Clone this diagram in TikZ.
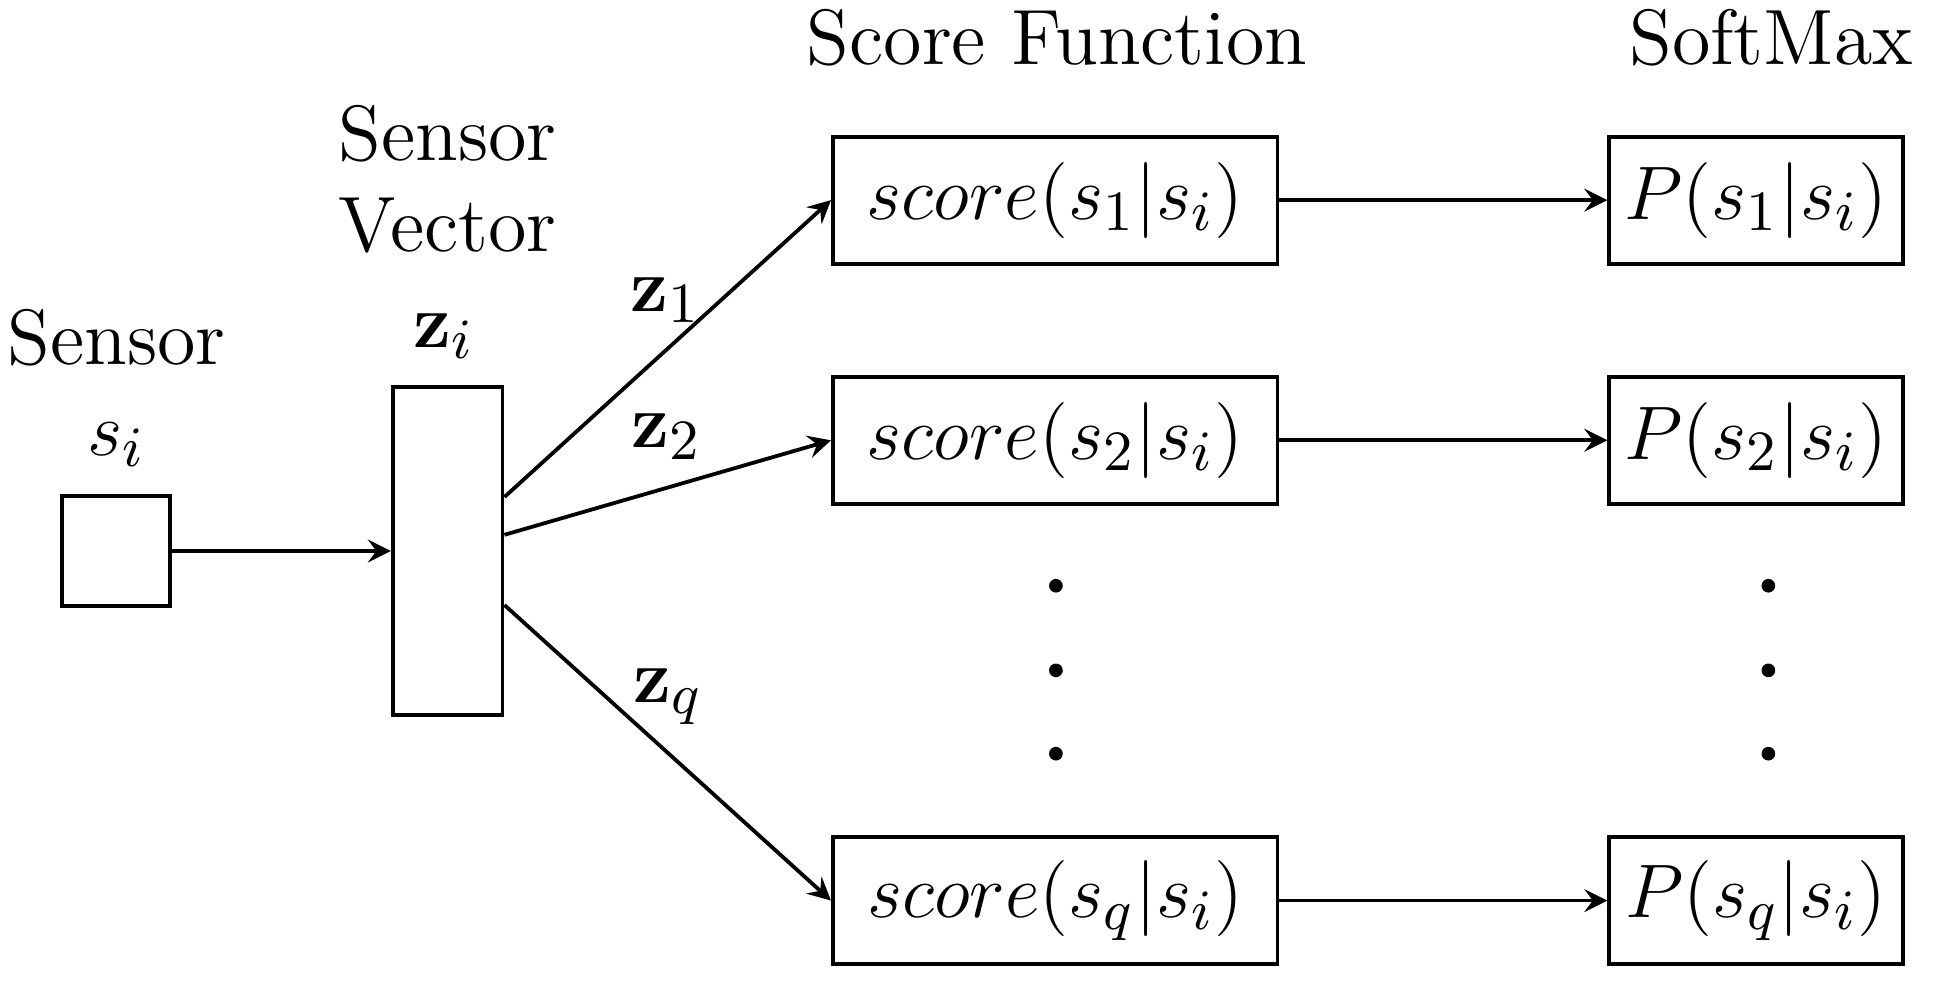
\documentclass[tikz,border=0pt]{standalone}
\usepackage{amsmath}
\usepackage{amssymb}
\usepackage{tikz}
\newcommand{\figfont}{\fontsize{12.4pt}{14.5pt}\selectfont}
\tikzstyle{box} = [draw=black, line width=0.6pt, inner sep=0pt, font=\figfont]
\tikzstyle{sensorbox} = [box, minimum width=0.6cm, minimum height=0.61cm]
\tikzstyle{vecbox} = [box, minimum width=0.61cm, minimum height=1.82cm]
\tikzstyle{scorebox} = [box, minimum width=2.47cm, minimum height=0.705cm]
\tikzstyle{probbox} = [box, minimum width=1.63cm, minimum height=0.705cm]
\tikzstyle{caption} = [font=\figfont, inner sep=0pt, anchor=base]
\tikzstyle{link} = [->, >=stealth, line width=0.6pt]

\begin{document}
\begin{tikzpicture}
        \useasboundingbox (0,0) rectangle (10.833,-5.461);
        \node[caption](hsensor) at (0.649,-2.024){Sensor};
        \node[caption](lsensor) at (0.65,-2.528){$s_i$};
        \node[caption,align=center,anchor=south](hvector) at (2.487,-1.416){Sensor\\Vector};
        \node[caption](lvector) at (2.467,-1.928){$\mathbf{z}_i$};
        \node[caption](hscore) at (5.872,-0.359){Score Function};
        \node[caption](hsoftmax) at (9.84,-0.359){SoftMax};
        \node[sensorbox](sen) at (0.646,-3.061){};
        \node[vecbox](vec) at (2.487,-3.061){};
        \node[scorebox](sc1) at (5.862,-1.112){$score(s_1|s_i)$};
        \node[scorebox](sc2) at (5.862,-2.446){$score(s_2|s_i)$};
        \node[scorebox](scq) at (5.862,-5.003){$score(s_q|s_i)$};
        \node[probbox](p1) at (9.755,-1.112){$P(s_1|s_i)$};
        \node[probbox](p2) at (9.755,-2.446){$P(s_2|s_i)$};
        \node[probbox](pq) at (9.755,-5.003){$P(s_q|s_i)$};
        \node[caption](z1) at (3.696,-1.728){$\mathbf{z}_1$};
        \node[caption](z2) at (3.703,-2.487){$\mathbf{z}_2$};
        \node[caption](zq) at (3.71,-3.903){$\mathbf{z}_q$};
        \foreach \y in {-3.254,-3.724,-4.187}{
          \fill (5.866,\y) circle (0.038);
          \fill (9.824,\y) circle (0.038);
        }
        \draw[link](sen)--(vec);
        \draw[link]([yshift=0.3cm]vec.east)--(sc1.west);
        \draw[link]([yshift=0.09cm]vec.east)--(sc2.west);
        \draw[link]([yshift=-0.3cm]vec.east)--(scq.west);
        \draw[link](sc1)--(p1);
        \draw[link](sc2)--(p2);
        \draw[link](scq)--(pq);
      \end{tikzpicture}
\end{document}
